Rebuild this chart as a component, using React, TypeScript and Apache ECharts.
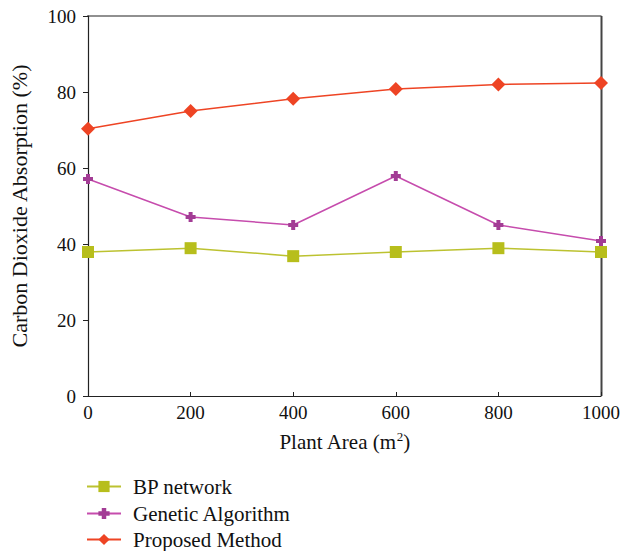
import React, { useEffect, useRef } from "react";
import * as echarts from "echarts";

const xValues = [0, 200, 400, 600, 800, 1000];
const bpNetwork = [37.9, 38.9, 36.8, 37.9, 38.9, 37.9];
const geneticAlgorithm = [57.1, 47.1, 45.0, 57.9, 45.0, 40.8];
const proposedMethod = [70.3, 75.0, 78.2, 80.8, 82.0, 82.4];
const seriesNames = ["BP network", "Genetic Algorithm", "Proposed Method"];

const FONT = "Liberation Serif";
const PLUS = "path://M3,0 L7,0 L7,3 L10,3 L10,7 L7,7 L7,10 L3,10 L3,7 L0,7 L0,3 L3,3 Z";

function pairs(vals: number[]) {
  return xValues.map((x, i) => [x, vals[i]]);
}

export default function App() {
  const ref = useRef<HTMLDivElement>(null);
  useEffect(() => {
    if (!ref.current) return;
    const chart = echarts.init(ref.current, null, { renderer: "svg" });
    const legendTops = [476, 503, 529];
    chart.setOption({
      animation: false,
      backgroundColor: "#ffffff",
      textStyle: { fontFamily: FONT },
      grid: { left: 87, right: 36, top: 16, bottom: 155, containLabel: false },
      xAxis: {
        type: "value",
        min: 0,
        max: 1000,
        interval: 200,
        name: "Plant Area (m{sup|2})",
        nameLocation: "middle",
        nameGap: 34,
        nameTextStyle: {
          fontFamily: FONT,
          fontSize: 21,
          color: "#111",
          rich: { sup: { fontSize: 13, verticalAlign: "top", padding: [0, 0, 10, 0], fontFamily: FONT, color: "#111" } },
        },
        axisLine: { show: true, onZero: false, lineStyle: { color: "#222", width: 1.2 } },
        axisTick: { show: true, inside: true, length: 4, lineStyle: { color: "#222" } },
        axisLabel: { fontFamily: FONT, fontSize: 19, color: "#111", margin: 7, formatter: (v: number) => String(v) },
        splitLine: { show: false },
      },
      yAxis: {
        type: "value",
        min: 0,
        max: 100,
        interval: 20,
        name: "Carbon Dioxide Absorption (%)",
        nameLocation: "middle",
        nameGap: 58,
        nameTextStyle: { fontFamily: FONT, fontSize: 22, color: "#111" },
        axisLine: { show: true, onZero: false, lineStyle: { color: "#222", width: 1.2 } },
        axisTick: { show: true, inside: false, length: 5, lineStyle: { color: "#222" } },
        axisLabel: { fontFamily: FONT, fontSize: 19, color: "#111", margin: 12 },
        splitLine: { show: false },
      },
      graphic: [
        {
          type: "line",
          shape: { x1: 87, y1: 16, x2: 601.5, y2: 16 },
          style: { stroke: "#222", lineWidth: 1.2 },
        },
        {
          type: "line",
          shape: { x1: 601.5, y1: 16, x2: 601.5, y2: 396 },
          style: { stroke: "#444", lineWidth: 2 },
        },
      ],
      legend: seriesNames.map((n, i) => ({
        orient: "vertical",
        left: 86,
        top: legendTops[i],
        padding: 0,
        itemWidth: 34,
        itemHeight: 14,
        itemGap: 0,
        textStyle: { fontFamily: FONT, fontSize: 21, color: "#111", padding: [0, 0, 0, 7] },
        data: [n],
      })),
      series: [
        {
          name: seriesNames[0],
          type: "line",
          data: pairs(bpNetwork),
          symbol: "rect",
          symbolSize: 12,
          itemStyle: { color: "#b7be1c" },
          lineStyle: { color: "#bcc230", width: 1.5 },
          z: 3,
        },
        {
          name: seriesNames[1],
          type: "line",
          data: pairs(geneticAlgorithm),
          symbol: PLUS,
          symbolSize: 10,
          itemStyle: { color: "#a33c95" },
          lineStyle: { color: "#c64cad", width: 1.5 },
          z: 4,
        },
        {
          name: seriesNames[2],
          type: "line",
          data: pairs(proposedMethod),
          symbol: "diamond",
          symbolSize: 14,
          itemStyle: { color: "#ee4424" },
          lineStyle: { color: "#ee4424", width: 1.5 },
          z: 5,
        },
      ],
    });
    return () => chart.dispose();
  }, []);
  return (
    <div
      ref={ref}
      style={{ position: "absolute", left: 0, top: 0, width: 637, height: 551 }}
    />
  );
}
